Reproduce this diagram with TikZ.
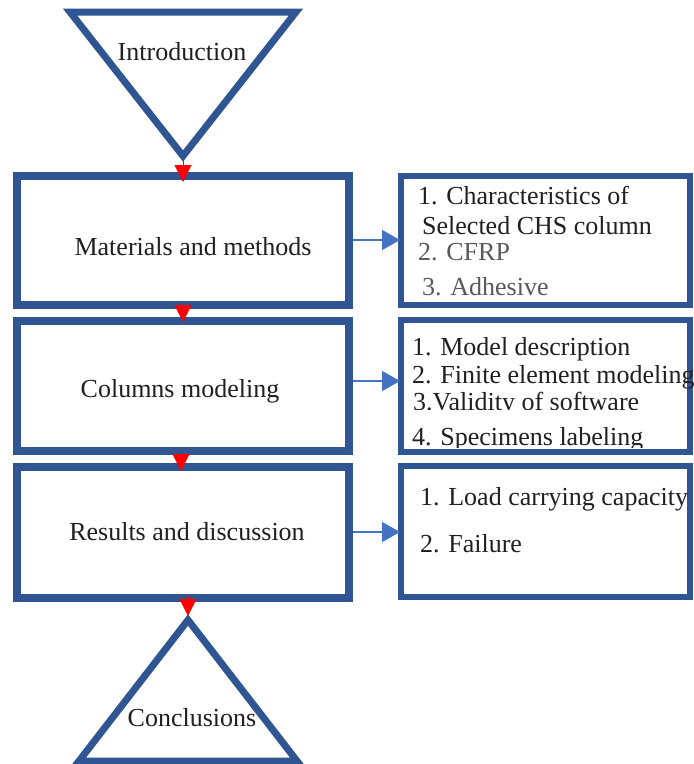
\documentclass[tikz,border=0pt]{standalone}
\usepackage{fontspec}
\setmainfont{Liberation Serif}
\usetikzlibrary{arrows.meta}
\definecolor{frame}{HTML}{2F5592}
\definecolor{arrowblue}{HTML}{4472C4}
\definecolor{txt}{HTML}{231F20}
\definecolor{graytxt}{HTML}{595959}
\begin{document}
\begin{tikzpicture}[x=1pt,y=-1pt,
  mainbox/.style={draw=frame,line width=8pt,rectangle,inner sep=0pt},
  sidebox/.style={draw=frame,line width=6.5pt,rectangle,inner sep=0pt},
  tri/.style={draw=frame,line width=7pt,line join=miter},
  lbl/.style={text=txt,font=\fontsize{26}{30}\selectfont,inner sep=0pt},
  redarrow/.style={draw=red,line width=1pt,-{Triangle[width=17pt,length=17pt]}},
  bluearrow/.style={draw=arrowblue,line width=1.5pt,-{Triangle[width=20pt,length=18pt]}}]
\useasboundingbox (0,0) rectangle (694,764);
\fill[white] (0,0) rectangle (694,764);

% top triangle
\draw[tri] (70,12) -- (296,12) -- (183,156) -- cycle;
\node[lbl,anchor=base] (intro) at (182,60) {Introduction};

% main boxes
\node[mainbox,minimum width=332pt,minimum height=129pt] (mm) at (183,240.5) {};
\node[lbl,anchor=base] (mmtext) at (193,255) {Materials and methods};
\node[mainbox,minimum width=332pt,minimum height=130pt] (cm) at (183,386) {};
\node[lbl,anchor=base] (cmtext) at (180,397) {Columns modeling};
\node[mainbox,minimum width=332pt,minimum height=131pt] (rd) at (183,532.5) {};
\node[lbl,anchor=base] (rdtext) at (187,540) {Results and discussion};

% bottom triangle
\draw[tri] (188,620) -- (297,761) -- (79,761) -- cycle;
\node[lbl,anchor=base] (concl) at (192,726) {Conclusions};

% side boxes
\node[sidebox,minimum width=289pt,minimum height=129pt] (s1) at (545.5,240.5) {};
\node[sidebox,minimum width=289pt,minimum height=132pt] (s2) at (545.5,386) {};
\node[sidebox,minimum width=289pt,minimum height=131pt] (s3) at (545.5,531.5) {};

% side texts
\node[lbl,anchor=base west] (s1a) at (418,204) {1. Characteristics of};
\node[lbl,anchor=base west] (s1b) at (422,234) {Selected CHS column};
\node[lbl,anchor=base west,text=graytxt] (s1c) at (418,260) {2. CFRP};
\node[lbl,anchor=base west,text=graytxt] (s1d) at (422,295) {3. Adhesive};

\node[lbl,anchor=base west] (s2a) at (412,355) {1. Model description};
\node[lbl,anchor=base west] (s2b) at (412,383) {2. Finite element modeling};
\begin{scope}
  \clip (405,385) rectangle (694,409);
  \node[lbl,anchor=base west] (s2c) at (413,410) {3.Validity of software};
\end{scope}
\begin{scope}
  \clip (405,412) rectangle (694,447);
  \node[lbl,anchor=base west] (s2d) at (412,445) {4. Specimens labeling};
\end{scope}

\node[lbl,anchor=base west] (s3a) at (420,505) {1. Load carrying capacity};
\node[lbl,anchor=base west] (s3b) at (420,552) {2. Failure};

% red connectors
\coordinate (r1s) at (183,155); \coordinate (r1e) at (183,182);
\coordinate (r2s) at (183,302); \coordinate (r2e) at (183,322);
\coordinate (r3s) at (181,451); \coordinate (r3e) at (181,471);
\coordinate (r4s) at (188,596); \coordinate (r4e) at (188,616);
\draw[redarrow] (r1s) -- (r1e);
\draw[redarrow] (r2s) -- (r2e);
\draw[redarrow] (r3s) -- (r3e);
\draw[redarrow] (r4s) -- (r4e);

% blue connectors
\coordinate (b1s) at (353,240); \coordinate (b1e) at (400,240);
\coordinate (b2s) at (353,381); \coordinate (b2e) at (400,381);
\coordinate (b3s) at (353,532); \coordinate (b3e) at (400,532);
\draw[bluearrow] (b1s) -- (b1e);
\draw[bluearrow] (b2s) -- (b2e);
\draw[bluearrow] (b3s) -- (b3e);
\end{tikzpicture}
\end{document}
